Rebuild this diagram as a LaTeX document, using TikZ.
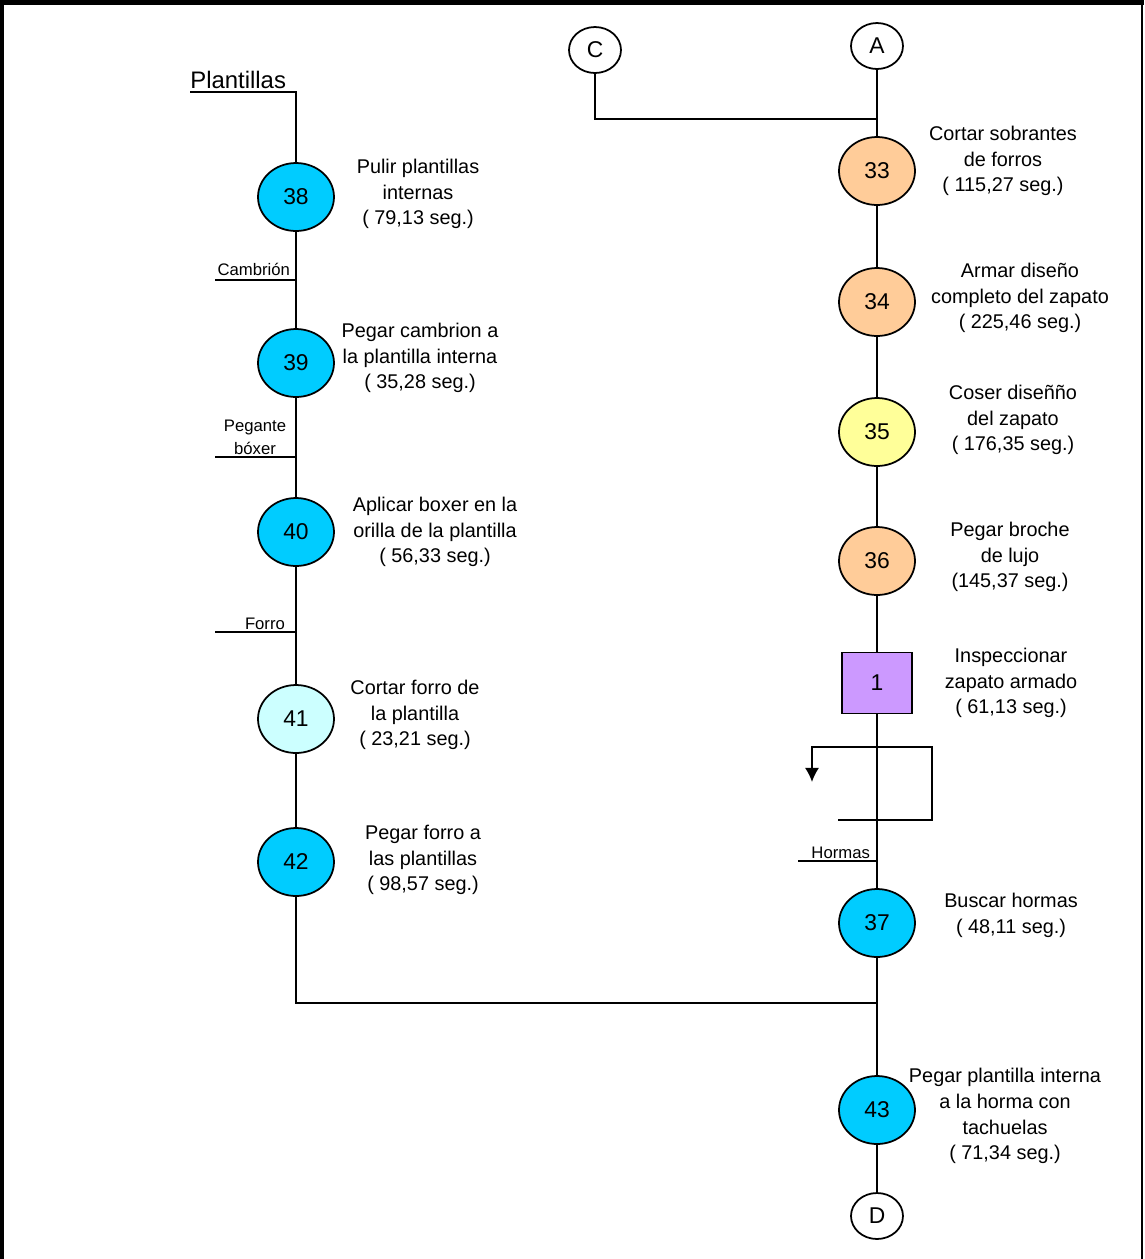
\documentclass[tikz,border=0pt]{standalone}
\usepackage{fontspec}
\setmainfont{Liberation Sans}
\usetikzlibrary{shapes.geometric,arrows.meta}

\definecolor{opblue}{HTML}{00CCFF}
\definecolor{oplight}{HTML}{CCFFFF}
\definecolor{oporange}{HTML}{FFCC99}
\definecolor{opyellow}{HTML}{FFFF99}
\definecolor{insviolet}{HTML}{CC99FF}

\begin{document}
\begin{tikzpicture}
[x=0.02cm, y=-0.02cm,
 op/.style ={ellipse, draw, line width=1pt, minimum width=1.52cm, minimum height=1.36cm, inner sep=0pt, font=\fontsize{13}{15}\selectfont},
 insp/.style ={rectangle, draw, line width=1pt, fill=insviolet, minimum width=1.4cm, minimum height=1.22cm, inner sep=0pt, font=\fontsize{13}{15}\selectfont},
 conn/.style ={ellipse, draw, line width=1pt, fill=white, minimum width=1.04cm, minimum height=0.92cm, inner sep=0pt, font=\fontsize{13}{15}\selectfont},
 desc/.style ={align=center, inner sep=0pt, font=\fontsize{11.3}{14.7}\selectfont},
 mat/.style ={inner sep=1pt, font=\fontsize{9.5}{13}\selectfont},
 line/.style ={draw, line width=1pt}]
\useasboundingbox (0,0) rectangle (1144,1259);
% frame
\draw[line width=2.8pt] (1.4,1259) -- (1.4,2.5) -- (1144,2.5);
\draw[line width=1.1pt] (1142,0) -- (1142,1259);

% plantillas column
\node[anchor=base west, inner sep=0pt, font=\fontsize{13.6}{16}\selectfont] (pl) at (190,88) {Plantillas};
\path (296,197) node[op, fill=opblue] (o38) {38}
      (296,363) node[op, fill=opblue] (o39) {39}
      (296,532) node[op, fill=opblue] (o40) {40}
      (296,719) node[op, fill=oplight] (o41) {41}
      (296,862) node[op, fill=opblue] (o42) {42};
\path (418,194) node[desc] (t38) {Pulir plantillas\\internas\\( 79,13 seg.)}
      (420,358) node[desc] (t39) {Pegar cambrion a\\la plantilla interna\\( 35,28 seg.)}
      (435,532) node[desc] (t40) {Aplicar boxer en la\\orilla de la plantilla\\( 56,33 seg.)}
      (415,715) node[desc] (t41) {Cortar forro de\\la plantilla\\( 23,21 seg.)}
      (423,860) node[desc] (t42) {Pegar forro a\\las plantillas\\( 98,57 seg.)};

% main line
\path (877,46) node[conn] (a) {A}
      (595,50) node[conn] (c) {C}
      (877,171) node[op, fill=oporange] (o33) {33}
      (877,302) node[op, fill=oporange] (o34) {34}
      (877,432) node[op, fill=opyellow] (o35) {35}
      (877,561) node[op, fill=oporange] (o36) {36}
      (877,683) node[insp] (i1) {1}
      (877,923) node[op, fill=opblue] (o37) {37}
      (877,1110) node[op, fill=opblue] (o43) {43}
      (877,1216) node[conn] (d) {D};
\path (1003,161) node[desc] (t33) {Cortar sobrantes\\de forros\\( 115,27 seg.)}
      (1020,298) node[desc] (t34) {Armar diseño\\completo del zapato\\( 225,46 seg.)}
      (1013,420) node[desc] (t35) {Coser diseñño\\del zapato\\( 176,35 seg.)}
      (1010,557) node[desc] (t36) {Pegar broche\\de lujo\\(145,37 seg.)}
      (1011,683) node[desc] (t1) {Inspeccionar\\zapato armado\\( 61,13 seg.)}
      (1011,915) node[desc] (t37) {Buscar hormas\\( 48,11 seg.)}
      (1005,1116) node[desc] (t43) {Pegar plantilla interna\\a la horma con\\tachuelas\\( 71,34 seg.)};

% materials
\coordinate (ptop) at (296,92);
\coordinate (pleft) at (190,92);
\coordinate (m1) at (215,280);
\coordinate (m2) at (215,457);
\coordinate (m3) at (215,632);
\coordinate (m4) at (798,861);
\node[mat, anchor=south east] (l1) at (292,278) {Cambrión};
\node[mat, anchor=south, align=center] (l2) at (255,457) {Pegante\\bóxer};
\node[mat, anchor=south east] (l3) at (287,632) {Forro};
\node[mat, anchor=south east] (l4) at (872,861) {Hormas};

\draw[line] (pleft) -- (ptop) -- (o38) -- (o39) -- (o40) -- (o41) -- (o42);
\draw[line] (m1) -- (m1 -| o38);
\draw[line] (m2) -- (m2 -| o38);
\draw[line] (m3) -- (m3 -| o38);
\draw[line] (m4) -- (m4 -| o37);

\coordinate (cj) at (877,119);
\coordinate (jn) at (877,1003);
\draw[line] (c) |- (cj);
\draw[line] (a) -- (o33) -- (o34) -- (o35) -- (o36) -- (i1) -- (o37) -- (o43) -- (d);
\draw[line] (o42) |- (jn);

% return loop
\coordinate (lp) at (877,747);
\coordinate (lr) at (932,820);
\coordinate (lb) at (838,820);
\coordinate (la) at (812,782);
\draw[line, -{Latex[length=8pt,width=8pt]}] (lp) -| (la);
\draw[line] (lp) -| (lr) -- (lb);
\end{tikzpicture}
\end{document}
